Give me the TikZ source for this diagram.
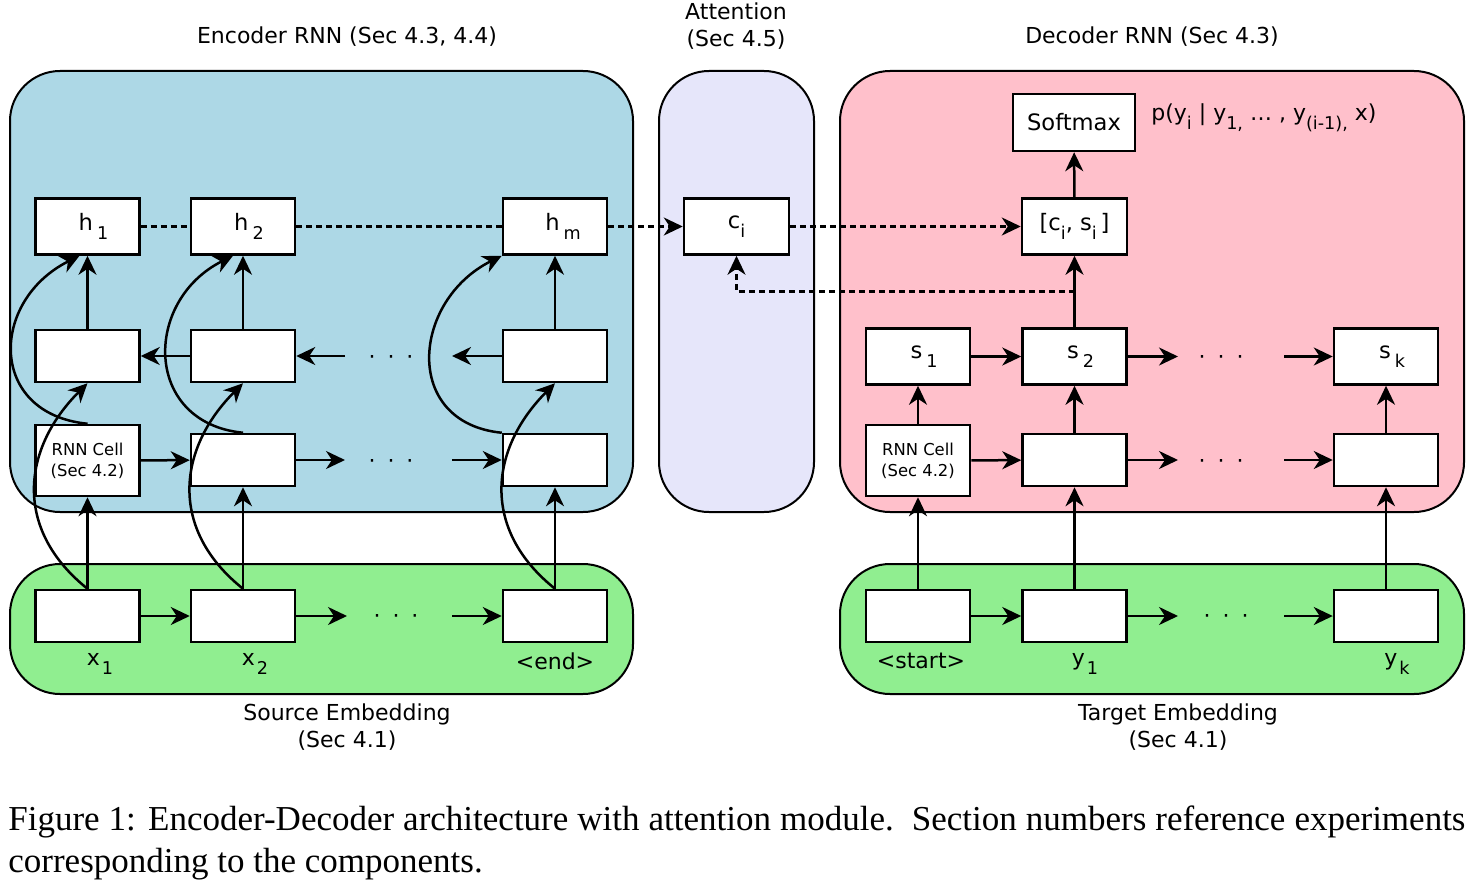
\documentclass[tikz,border=0pt]{standalone}
\usepackage{fontspec}
\setmainfont{DejaVu Sans}
\newfontfamily\capfont{Liberation Serif}
\usetikzlibrary{arrows.meta,calc}
\definecolor{encblue}{HTML}{ADD8E6}
\definecolor{attlav}{HTML}{E6E6FA}
\definecolor{decpink}{HTML}{FFC0CB}
\definecolor{embgreen}{HTML}{90EE90}
\newcommand\mysub[1]{\raisebox{-0.75ex}{\fontsize{8.8}{8.8}\selectfont #1}}
\begin{document}
\begin{tikzpicture}[x=0.5pt,y=-0.5pt,
  panel/.style={draw, line width=1pt, rounded corners=25pt},
  cell/.style={draw, fill=white, line width=1.25pt, minimum width=52pt, minimum height=26pt, inner sep=0pt, font=\fontsize{11.3}{13}\selectfont},
  tallcell/.style={cell, minimum height=28pt},
  rnncell/.style={cell, minimum height=35.5pt, align=center, font=\fontsize{8.2}{10.5}\selectfont},
  arr/.style={line width=1.25pt, -{Stealth[length=9.5pt,width=9pt,inset=3pt]}},
  dotline/.style={line width=1.25pt, dash pattern=on 3pt off 2pt},
  lbl/.style={font=\fontsize{11}{13.5}\selectfont, inner sep=0pt},
  dots/.style={font=\fontsize{11}{13}\selectfont, inner sep=0pt}
]
\useasboundingbox (0,0) rectangle (1470,883);

% panels
\draw[panel, fill=encblue] (10,71) rectangle (633,512);
\draw[panel, fill=attlav] (659,71) rectangle (814,512);
\draw[panel, fill=decpink] (840,71) rectangle (1464,512);
\draw[panel, fill=embgreen] (10,564) rectangle (633,694);
\draw[panel, fill=embgreen] (840,564) rectangle (1464,694);

% titles
\node[lbl] (tenc) at (347,37) {Encoder RNN (Sec 4.3, 4.4)};
\node[lbl, align=center] (tatt) at (736,26.5) {Attention\\(Sec 4.5)};
\node[lbl] (tdec) at (1152,37) {Decoder RNN (Sec 4.3)};
\node[lbl, align=center] (tsrc) at (347,727) {Source Embedding\\(Sec 4.1)};
\node[lbl, align=center] (ttgt) at (1178,727) {Target Embedding\\(Sec 4.1)};

% encoder nodes
\node[tallcell] (h1) at (87.5,226.5) {\hspace{6pt}h\hspace{2pt}\mysub{1}};
\node[tallcell] (h2) at (243,226.5) {\hspace{6pt}h\hspace{2pt}\mysub{2}};
\node[tallcell] (hm) at (555,226.5) {\hspace{8pt}h\hspace{2pt}\mysub{m}};
\node[cell] (m1) at (87.5,356) {};
\node[cell] (m2) at (243,356) {};
\node[cell] (m3) at (555,356) {};
\node[rnncell] (r1) at (87.5,460.5) {RNN Cell\\(Sec 4.2)};
\node[cell] (r2) at (243,460) {};
\node[cell] (r3) at (555,460) {};
\node[cell] (e1) at (87.5,616) {};
\node[cell] (e2) at (243,616) {};
\node[cell] (e3) at (555,616) {};
\node[lbl] (lx1) at (100,664) {x\hspace{1pt}\mysub{1}};
\node[lbl] (lx2) at (255,664) {x\hspace{1pt}\mysub{2}};
\node[lbl] (lend) at (555,661) {<end>};

% attention
\node[tallcell, minimum width=52.5pt] (ci) at (736.5,226.5) {c\mysub{i}};

% decoder nodes
\node[cell, minimum width=61pt, minimum height=28.5pt] (sm) at (1074,122.5) {Softmax};
\node[tallcell, minimum width=52.5pt] (cs) at (1074.5,226.5) {[c\mysub{i}, s\mysub{i}\,]};
\node[lbl, anchor=west] (pp) at (1151,118) {p(y\mysub{i} | y\mysub{1,} … , y\mysub{(i-1),} x)};
\node[tallcell] (s1) at (918,356.5) {\hspace{6pt}s\hspace{2pt}\mysub{1}};
\node[tallcell] (s2) at (1074.5,356.5) {\hspace{6pt}s\hspace{2pt}\mysub{2}};
\node[tallcell] (sk) at (1386,356.5) {\hspace{6pt}s\hspace{2pt}\mysub{k}};
\node[rnncell] (d1) at (918,460.5) {RNN Cell\\(Sec 4.2)};
\node[cell] (d2) at (1074.5,460) {};
\node[cell] (dk) at (1386,460) {};
\node[cell] (t1) at (918,616) {};
\node[cell] (t2) at (1074.5,616) {};
\node[cell] (tk) at (1386,616) {};
\node[lbl] (lstart) at (921,661) {<start>};
\node[lbl] (ly1) at (1085,664) {y\hspace{1pt}\mysub{1}};
\node[lbl] (lyk) at (1397,664) {y\hspace{1pt}\mysub{k}};

% ellipses
\node[dots] (dm) at (391,360) {·\hspace{6pt}·\hspace{6pt}·};
\node[dots] (dr) at (391,464) {·\hspace{6pt}·\hspace{6pt}·};
\node[dots] (de) at (396,619) {·\hspace{6pt}·\hspace{6pt}·};
\node[dots] (ds) at (1221,360) {·\hspace{6pt}·\hspace{6pt}·};
\node[dots] (dd) at (1221,464) {·\hspace{6pt}·\hspace{6pt}·};
\node[dots] (dt) at (1226,619) {·\hspace{6pt}·\hspace{6pt}·};

% stub coordinates
\coordinate (cma) at (345,356);
\coordinate (cmb) at (452,356);
\coordinate (cra) at (345,460);
\coordinate (crb) at (452,460);
\coordinate (cea) at (347,616);
\coordinate (ceb) at (452,616);
\coordinate (csa) at (1178,356.5);
\coordinate (csb) at (1284,356.5);
\coordinate (cda) at (1178,460);
\coordinate (cdb) at (1284,460);
\coordinate (cta) at (1178,616);
\coordinate (ctb) at (1284,616);
\coordinate (jn) at ($(s2.north)!0.5!(cs.south)$);

% encoder connectors
\draw[dotline] (h1.east) -- (h2.west);
\draw[dotline] (h2.east) -- (hm.west);
\draw[arr, dotline] (hm.east) -- (ci.west);
\draw[arr, dotline] (ci.east) -- (cs.west);
\draw[arr] (m1) -- (h1);
\draw[arr] (m2) -- (h2);
\draw[arr] (m3) -- (hm);
\draw[arr] (m2) -- (m1);
\draw[arr] (cma) -- (m2.east);
\draw[arr] (m3.west) -- (cmb);
\draw[arr] (r1) -- (r2);
\draw[arr] (r2.east) -- (cra);
\draw[arr] (crb) -- (r3.west);
\draw[arr] (e1) -- (e2);
\draw[arr] (e2.east) -- (cea);
\draw[arr] (ceb) -- (e3.west);
\draw[arr] (e1) -- (r1);
\draw[arr] (e2) -- (r2);
\draw[arr] (e3) -- (r3);
% curved skip connections
\draw[arr] (e1.north) .. controls +(-75,-60) and +(-65,65) .. (m1.south);
\draw[arr] (e2.north) .. controls +(-75,-60) and +(-65,65) .. (m2.south);
\draw[arr] (e3.north) .. controls +(-75,-60) and +(-65,65) .. (m3.south);
\draw[arr] (r1.north) .. controls +(-100,-10) and +(-90,45) .. ($(h1.south)+(-8,0)$);
\draw[arr] (r2.north) .. controls +(-100,-10) and +(-90,45) .. ($(h2.south)+(-10,0)$);
\draw[arr] (r3.north west) .. controls +(-100,-10) and +(-90,45) .. (hm.south west);

% decoder connectors
\draw[arr] (cs) -- (sm);
\draw[arr] (s2) -- (cs);
\draw[arr, dotline] (jn) -| (ci.south);
\draw[arr] (s1) -- (s2);
\draw[arr] (s2.east) -- (csa);
\draw[arr] (csb) -- (sk.west);
\draw[arr] (d1) -- (s1);
\draw[arr] (d2) -- (s2);
\draw[arr] (dk) -- (sk);
\draw[arr] (d1) -- (d2);
\draw[arr] (d2.east) -- (cda);
\draw[arr] (cdb) -- (dk.west);
\draw[arr] (t1) -- (t2);
\draw[arr] (t2.east) -- (cta);
\draw[arr] (ctb) -- (tk.west);
\draw[arr] (t1) -- (d1);
\draw[arr] (t2) -- (d2);
\draw[arr] (tk) -- (dk);

% caption
\node[anchor=base west, inner sep=0pt, font=\capfont\fontsize{17.5}{21}\selectfont] (cap1) at (8,830) {\makebox[728.5pt][s]{Figure 1: Encoder-Decoder architecture with attention module.\ \ Section numbers reference experiments}};
\node[anchor=base west, inner sep=0pt, font=\capfont\fontsize{17.5}{21}\selectfont] (cap2) at (8,872) {corresponding to the components.};
\end{tikzpicture}
\end{document}
